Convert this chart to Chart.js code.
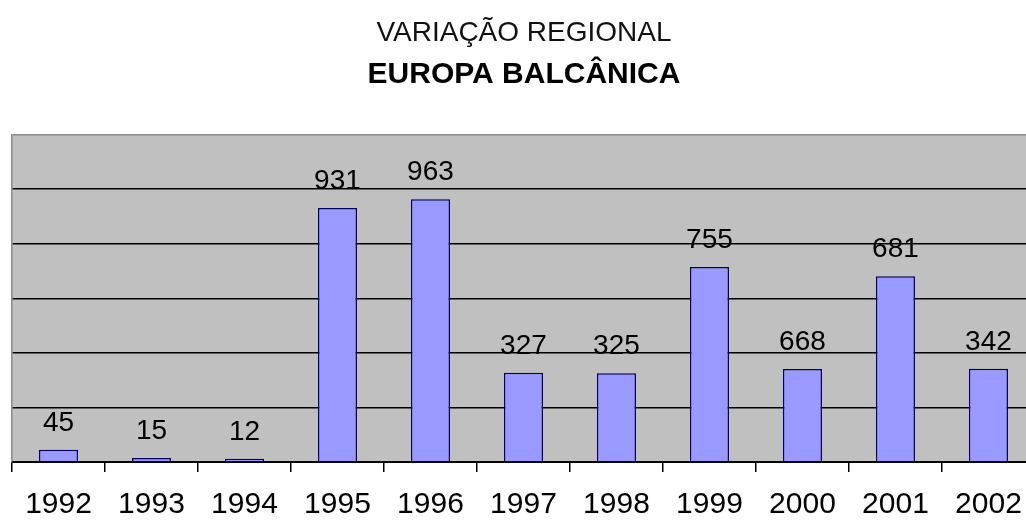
<!DOCTYPE html>
<html>
<head>
<meta charset="utf-8">
<title>Variação Regional - Europa Balcânica</title>
<script src="https://cdn.jsdelivr.net/npm/chart.js@4.4.1/dist/chart.umd.min.js"></script>
<style>
    html, body {
        margin: 0;
        padding: 0;
        background: #ffffff;
        overflow: hidden;
    }
    #wrap {
        width: 1040px;
        height: 520px;
    }
</style>
</head>
<body>
<div id="wrap">
    <canvas id="regionChart" width="1040" height="520"></canvas>
</div>
<script>
// Chart data
const years = ['1992', '1993', '1994', '1995', '1996', '1997', '1998', '1999', '2000', '2001', '2002'];
// bar heights as drawn
const barValues = [45, 15, 12, 931, 963, 327, 325, 715, 341, 681, 342];
// numbers printed above the bars
const valueLabels = ['45', '15', '12', '931', '963', '327', '325', '755', '668', '681', '342'];
const yTicks = [0, 200, 400, 600, 800, 1000, 1200];

const FONT = "'Liberation Sans', Arial, sans-serif";

// grey plot background
const plotBackground = {
    id: 'plotBackground',
    beforeDraw(chart) {
        const { ctx, chartArea } = chart;
        ctx.save();
        ctx.fillStyle = '#c0c0c0';
        ctx.fillRect(chartArea.left, chartArea.top, chartArea.right - chartArea.left, chartArea.bottom - chartArea.top);
        ctx.restore();
    }
};

// value text above each bar
const barValueText = {
    id: 'barValueText',
    afterDatasetsDraw(chart) {
        const ctx = chart.ctx;
        const meta = chart.getDatasetMeta(0);
        ctx.save();
        ctx.font = '28px ' + FONT;
        ctx.fillStyle = '#000000';
        ctx.textAlign = 'center';
        ctx.textBaseline = 'alphabetic';
        meta.data.forEach((bar, i) => {
            ctx.fillText(valueLabels[i], bar.x, bar.y - 19);
        });
        ctx.restore();
    }
};

function createRegionChart() {
    const ctx = document.getElementById('regionChart').getContext('2d');

    new Chart(ctx, {
        type: 'bar',
        data: {
            labels: years,
            datasets: [{
                data: barValues,
                backgroundColor: '#9999ff',
                borderColor: '#000066',
                borderWidth: 1.5,
                categoryPercentage: 1.0,
                barPercentage: 0.42
            }]
        },
        options: {
            responsive: false,
            animation: false,
            layout: {
                padding: { left: 12, right: 4, top: 0, bottom: -18 }
            },
            plugins: {
                legend: { display: false },
                tooltip: { enabled: false },
                title: {
                    display: true,
                    text: 'VARIAÇÃO REGIONAL',
                    color: '#111111',
                    font: { family: FONT, size: 28, weight: 'normal', lineHeight: 1.2 },
                    padding: { top: 16, bottom: 7 }
                },
                subtitle: {
                    display: true,
                    text: 'EUROPA BALCÂNICA',
                    color: '#000000',
                    font: { family: FONT, size: 30, weight: 'bold', lineHeight: 1.2 },
                    padding: { top: 0, bottom: 42 }
                }
            },
            scales: {
                x: {
                    grid: {
                        offset: true,
                        drawOnChartArea: false,
                        drawTicks: true,
                        tickLength: 10,
                        color: '#000000',
                        lineWidth: 1.5
                    },
                    border: { color: '#000000', width: 2 },
                    ticks: {
                        color: '#000000',
                        padding: 18,
                        maxRotation: 0,
                        font: { family: FONT, size: 30, lineHeight: 1.0 }
                    }
                },
                y: {
                    min: 0,
                    max: 1200,
                    afterBuildTicks(axis) {
                        axis.ticks = yTicks.map(v => ({ value: v }));
                    },
                    grid: {
                        drawTicks: false,
                        color: (c) => (c.tick && c.tick.value === 1200 ? '#8a8a8a' : '#000000'),
                        lineWidth: 1.5
                    },
                    border: { color: '#8a8a8a', width: 1.5 },
                    ticks: { display: false }
                }
            }
        },
        plugins: [plotBackground, barValueText]
    });
}

document.addEventListener('DOMContentLoaded', createRegionChart);
</script>
</body>
</html>
